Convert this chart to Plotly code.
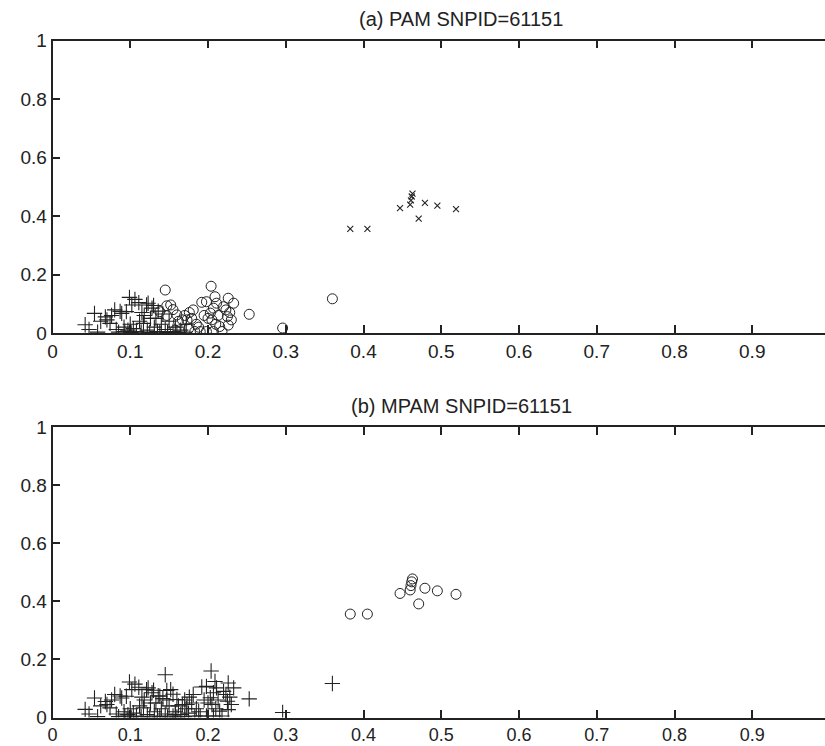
import plotly.graph_objects as go

# ---- data ----
# group 1: '+' in both panels
g1_x = [0.042, 0.047, 0.054, 0.058, 0.062, 0.068, 0.070, 0.074, 0.076, 0.080,
        0.082, 0.085, 0.087, 0.089, 0.092, 0.093, 0.095, 0.097, 0.099, 0.100,
        0.101, 0.102, 0.104, 0.106, 0.108, 0.111, 0.112, 0.114, 0.115, 0.117,
        0.118, 0.121, 0.122, 0.123, 0.125, 0.126, 0.128, 0.130, 0.131, 0.133,
        0.135, 0.136, 0.138, 0.140, 0.142, 0.145, 0.148, 0.150, 0.155, 0.158,
        0.160, 0.165, 0.170, 0.172]
g1_y = [0.028, 0.012, 0.067, 0.003, 0.040, 0.055, 0.045, 0.033, 0.060, 0.079,
        0.012, 0.003, 0.074, 0.067, 0.020, 0.005, 0.073, 0.010, 0.122, 0.030,
        0.002, 0.096, 0.015, 0.115, 0.005, 0.104, 0.040, 0.003, 0.070, 0.033,
        0.060, 0.096, 0.010, 0.102, 0.002, 0.050, 0.085, 0.094, 0.020, 0.050,
        0.005, 0.075, 0.003, 0.030, 0.065, 0.012, 0.002, 0.040, 0.005, 0.020,
        0.002, 0.010, 0.003, 0.030]

# group 2: 'o' in panel (a), '+' in panel (b)
g2_x = [0.138, 0.145, 0.147, 0.147, 0.152, 0.155, 0.158, 0.160, 0.162, 0.167,
        0.170, 0.173, 0.175, 0.176, 0.179, 0.181, 0.183, 0.185, 0.188, 0.190,
        0.192, 0.195, 0.198, 0.198, 0.200, 0.203, 0.204, 0.205, 0.207, 0.207,
        0.209, 0.210, 0.211, 0.213, 0.215, 0.218, 0.220, 0.223, 0.225, 0.226,
        0.226, 0.228, 0.230, 0.233, 0.253, 0.296, 0.360]
g2_y = [0.073, 0.147, 0.093, 0.060, 0.096, 0.080, 0.010, 0.062, 0.040, 0.045,
        0.060, 0.045, 0.015, 0.070, 0.050, 0.079, 0.005, 0.030, 0.020, 0.005,
        0.105, 0.060, 0.005, 0.107, 0.050, 0.068, 0.160, 0.045, 0.005, 0.085,
        0.124, 0.030, 0.102, 0.060, 0.022, 0.005, 0.090, 0.079, 0.056, 0.119,
        0.027, 0.070, 0.045, 0.102, 0.064, 0.017, 0.117]

# group 3: 'x' in panel (a), 'o' in panel (b)
g3_x = [0.383, 0.405, 0.447, 0.460, 0.461, 0.462, 0.463, 0.471, 0.479, 0.495, 0.519]
g3_y = [0.356, 0.356, 0.427, 0.439, 0.454, 0.467, 0.477, 0.391, 0.445, 0.436, 0.424]

titles = ["(a) PAM SNPID=61151", "(b) MPAM SNPID=61151"]
x_ticks = [0, 0.1, 0.2, 0.3, 0.4, 0.5, 0.6, 0.7, 0.8, 0.9]
x_tick_text = ["0", "0.1", "0.2", "0.3", "0.4", "0.5", "0.6", "0.7", "0.8", "0.9"]
y_ticks = [0, 0.2, 0.4, 0.6, 0.8, 1]
y_tick_text = ["0", "0.2", "0.4", "0.6", "0.8", "1"]

# ---- styling ----
W, H = 825, 746
INK = "#222222"
FONT = "Liberation Sans, Arial, sans-serif"

def px_x(p):
    return p / W

def px_y(p):
    return (H - p) / H

plus = dict(symbol="cross-thin-open", size=11, line=dict(width=1.1, color=INK), color=INK)
circ = dict(symbol="circle-open", size=10, line=dict(width=1.0, color=INK), color=INK)
xmk = dict(symbol="x-thin-open", size=6, line=dict(width=1.1, color=INK), color=INK)

fig = go.Figure()

def add(x, y, mk, ax):
    fig.add_trace(go.Scatter(x=x, y=y, mode="markers", marker=mk,
                             xaxis="x" + ax, yaxis="y" + ax, showlegend=False,
                             hoverinfo="skip"))

# panel (a)
add(g1_x, g1_y, plus, "")
add(g2_x, g2_y, circ, "")
add(g3_x, g3_y, xmk, "")
# panel (b)
add(g1_x, g1_y, plus, "2")
add(g2_x, g2_y, plus, "2")
add(g3_x, g3_y, circ, "2")

x_dom = [px_x(52.5), 1.0]
x_range = [0, (825 - 52.5) / 777.5]

common_x = dict(range=x_range, domain=x_dom, tickmode="array", tickvals=x_ticks,
                ticktext=x_tick_text, ticks="inside", ticklen=8, tickwidth=1.5,
                tickcolor=INK, showline=True, linewidth=1.5, linecolor=INK,
                mirror="ticks", showgrid=False, zeroline=False, automargin=False,
                tickfont=dict(family=FONT, size=19, color=INK))
common_y = dict(range=[0, 1], tickmode="array", tickvals=y_ticks, ticktext=y_tick_text,
                ticks="inside", ticklen=8, tickwidth=1.5, tickcolor=INK,
                showline=True, linewidth=1.5, linecolor=INK, mirror=False,
                showgrid=False, zeroline=False, automargin=False,
                tickfont=dict(family=FONT, size=19, color=INK))

fig.update_layout(
    width=W, height=H,
    margin=dict(l=0, r=0, t=0, b=0, autoexpand=False),
    paper_bgcolor="white", plot_bgcolor="white",
    xaxis=dict(common_x, anchor="y"),
    yaxis=dict(common_y, domain=[px_y(333), px_y(40.7)], anchor="x"),
    xaxis2=dict(common_x, anchor="y2", tickfont=dict(family=FONT, size=18, color=INK)),
    yaxis2=dict(common_y, domain=[px_y(717.5), px_y(427)], anchor="x2"),
    annotations=[
        dict(text=titles[0], x=px_x(461), y=px_y(19), xref="paper", yref="paper",
             showarrow=False, xanchor="center", yanchor="middle",
             font=dict(family=FONT, size=20, color=INK)),
        dict(text=titles[1], x=px_x(461), y=px_y(406), xref="paper", yref="paper",
             showarrow=False, xanchor="center", yanchor="middle",
             font=dict(family=FONT, size=20, color=INK)),
    ],
)

fig.write_html("out.html")
